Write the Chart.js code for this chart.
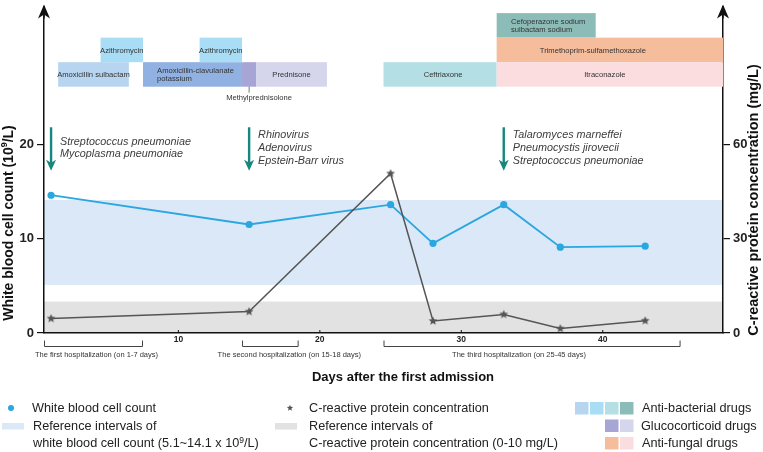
<!DOCTYPE html>
<html>
<head>
<meta charset="utf-8">
<script src="https://cdn.jsdelivr.net/npm/chart.js@4.4.1/dist/chart.umd.min.js"></script>
<style>body{margin:0;background:#fff}canvas{display:block}</style>
</head>
<body>
<canvas id="myChart" width="763" height="452"></canvas>
<script>
const ctx = document.getElementById('myChart').getContext('2d');

// lab values
const wbcDays = [1, 15, 25, 28, 33, 37, 43];
const wbcValues = [14.6, 11.5, 13.6, 9.5, 13.6, 9.1, 9.2];
const crpDays = [1, 15, 25, 28, 33, 37, 43];
const crpValues = [4.6, 6.8, 50.7, 3.8, 5.9, 1.4, 3.9];
const wbcRef = [5.1, 14.1];
const crpRef = [0, 10];

const xTicks = [10, 20, 30, 40];
const wbcTicks = [0, 10, 20];
const crpTicks = [0, 30, 60];

// drugs: first and last day given
const drugNames = ['Amoxicillin sulbactam', 'Azithromycin', 'Amoxicillin-clavulanate\npotassium', 'Azithromycin',
  'Methylprednisolone', 'Prednisone', 'Ceftriaxone', 'Cefoperazone sodium\nsulbactam sodium',
  'Trimethoprim-sulfamethoxazole', 'Itraconazole'];
const drugStart = [2, 5, 8, 12, 15, 16, 25, 33, 33, 33];
const drugEnd = [6, 7, 14, 14, 15, 20, 32, 39, 48, 48];
const drugRow = [0, 1, 0, 1, 0, 0, 0, 2, 1, 0];

// pathogens found
const infectionDays = [1, 15, 33];
const infectionNames = [
  ['Streptococcus pneumoniae', 'Mycoplasma pneumoniae'],
  ['Rhinovirus', 'Adenovirus', 'Epstein-Barr virus'],
  ['Talaromyces marneffei', 'Pneumocystis jirovecii', 'Streptococcus pneumoniae']
];

// hospital stays
const stayNames = ['The first hospitalization (on 1-7 days)', 'The second hospitalization (on 15-18 days)', 'The third hospitalization (on 25-45 days)'];
const stayStart = [1, 15, 25];
const stayEnd = [7, 18, 45];

// styling
const FAM = '"Liberation Sans", Arial, sans-serif';
const font = (s, w, st) => `${st || 'normal'} ${w || 'normal'} ${s}px ${FAM}`;
const drugColors = ['#b7d5f0', '#a9dcf5', '#90b1e1', '#a9dcf5', '#a7a5d6', '#d5d5ec', '#b4e0e5', '#8cbcb8', '#f5bd9b', '#fbdcdf'];
const drugLabelDx = [0, 0, 3, 0, 0, 0, 3, 2, -17, -5];
const rowBase = [26.1, 28.7, 31.3];
const rowH = 2.6;
const stayOffset = [3, 19, -13];
const wbcColor = '#2aa6e0';
const crpColor = '#555555';

function starPath(c, cx, cy, r) {
  c.beginPath();
  for (let i = 0; i < 10; i++) {
    const a = -Math.PI / 2 + i * Math.PI / 5;
    const rr = i % 2 ? r * 0.45 : r;
    c.lineTo(cx + rr * Math.cos(a), cy + rr * Math.sin(a));
  }
  c.closePath();
}
const starImg = document.createElement('canvas');
starImg.width = starImg.height = 10;
(function () { const g = starImg.getContext('2d'); g.fillStyle = crpColor; starPath(g, 5, 5, 4.6); g.fill(); })();

function richText(c, parts, x, y, align) {
  let w = 0;
  parts.forEach(p => { c.font = font(p[1], p[2]); w += c.measureText(p[0]).width; });
  let cx = align === 'center' ? x - w / 2 : x;
  c.textAlign = 'left';
  parts.forEach(p => {
    c.font = font(p[1], p[2]);
    c.fillText(p[0], cx, y + (p[3] || 0));
    cx += c.measureText(p[0]).width;
  });
}

function upArrow(c, x, tip) {
  c.beginPath();
  c.moveTo(x, tip); c.lineTo(x + 6, tip + 14); c.lineTo(x, tip + 10); c.lineTo(x - 6, tip + 14);
  c.closePath(); c.fill();
}

const overlay = {
  id: 'overlay',
  beforeDraw(chart) {
    const { ctx: c, chartArea: a, scales: { y, y1 } } = chart;
    c.save();
    c.fillStyle = '#dbe8f7';
    let t = y.getPixelForValue(wbcRef[1]), b = y.getPixelForValue(wbcRef[0]);
    c.fillRect(a.left, t, a.right - a.left, b - t);
    c.fillStyle = '#e2e2e2';
    t = y1.getPixelForValue(crpRef[1]); b = y1.getPixelForValue(crpRef[0]);
    c.fillRect(a.left, t, a.right - a.left, b - t);
    c.restore();
  },
  afterDraw(chart) {
    const { ctx: c, chartArea: a, scales: { x, y } } = chart;
    c.save();
    c.textBaseline = 'middle';

    // axis arrows
    c.fillStyle = '#111';
    c.strokeStyle = '#111';
    c.lineWidth = 1.5;
    [a.left, a.right].forEach(px => {
      c.beginPath(); c.moveTo(px, a.top); c.lineTo(px, a.top + 12); c.stroke();
      upArrow(c, px, a.top - 2);
    });
    // small inner ticks on x axis
    c.lineWidth = 1;
    xTicks.forEach(v => {
      const px = x.getPixelForValue(v);
      c.beginPath(); c.moveTo(px, a.bottom); c.lineTo(px, a.bottom - 3); c.stroke();
    });

    // drug bars
    drugNames.forEach((name, i) => {
      const x0 = x.getPixelForValue(drugStart[i] - 0.5);
      const x1 = x.getPixelForValue(drugEnd[i] + 0.5);
      const yb = y.getPixelForValue(rowBase[drugRow[i]]);
      const yt = y.getPixelForValue(rowBase[drugRow[i]] + rowH);
      c.fillStyle = drugColors[i];
      c.fillRect(x0, yt, x1 - x0, yb - yt);
      const lines = name.split('\n');
      c.font = font(7.6);
      const tw = Math.max(...lines.map(l => c.measureText(l).width));
      c.fillStyle = '#333';
      if (x1 - x0 < 20) {
        const cx = (x0 + x1) / 2;
        c.strokeStyle = '#777'; c.lineWidth = 1;
        c.beginPath(); c.moveTo(cx, yb); c.lineTo(cx, yb + 6); c.stroke();
        c.textAlign = 'center';
        c.fillText(name, cx + 10, yb + 11);
      } else {
        c.textAlign = 'left';
        const lh = 8.8;
        const mid = (yt + yb) / 2 + 0.5;
        lines.forEach((l, k) => {
          c.fillText(l, (x0 + x1) / 2 - tw / 2 + drugLabelDx[i], mid + (k - (lines.length - 1) / 2) * lh);
        });
      }
    });

    // pathogen arrows
    infectionDays.forEach((d, i) => {
      const px = x.getPixelForValue(d);
      const top = y.getPixelForValue(21.8), bot = y.getPixelForValue(17.2);
      c.strokeStyle = '#16877e'; c.fillStyle = '#16877e'; c.lineWidth = 2.4;
      c.beginPath(); c.moveTo(px, top); c.lineTo(px, bot - 6); c.stroke();
      c.beginPath();
      c.moveTo(px, bot); c.lineTo(px - 5, bot - 11); c.lineTo(px, bot - 8); c.lineTo(px + 5, bot - 11);
      c.closePath(); c.fill();
      c.fillStyle = '#3c3c3c';
      c.font = font(10.8, 'normal', 'italic');
      c.textAlign = 'left';
      const lines = infectionNames[i];
      const mid = (top + bot) / 2 - 1;
      lines.forEach((l, k) => c.fillText(l, px + 9, mid + (k - (lines.length - 1) / 2) * 12.7));
    });

    // hospital stays
    c.strokeStyle = '#444'; c.lineWidth = 1;
    stayNames.forEach((n, i) => {
      const x0 = x.getPixelForValue(stayStart[i] - 0.5), x1 = x.getPixelForValue(stayEnd[i] + 0.5);
      c.beginPath();
      c.moveTo(x0 + 0.5, 340.5); c.lineTo(x0 + 0.5, 346.5); c.lineTo(x1 - 0.5, 346.5); c.lineTo(x1 - 0.5, 340.5);
      c.stroke();
      c.fillStyle = '#333'; c.font = font(7.5); c.textAlign = 'center';
      c.fillText(n, (x0 + x1) / 2 + stayOffset[i], 354.5);
    });

    // axis titles
    c.fillStyle = '#111';
    c.font = font(13, 'bold'); c.textAlign = 'center';
    c.fillText('Days after the first admission', 403, 377);
    c.save();
    c.translate(9, 223); c.rotate(-Math.PI / 2);
    richText(c, [['White blood cell count (10', 14, 'bold'], ['9', 9, 'bold', -4], ['/L)', 14, 'bold']], 0, 0, 'center');
    c.restore();
    c.save();
    c.translate(754, 200); c.rotate(-Math.PI / 2);
    c.font = font(14.5, 'bold'); c.textAlign = 'center';
    c.fillText('C-reactive protein concentration (mg/L)', 0, 0);
    c.restore();

    // legend
    c.fillStyle = wbcColor;
    c.beginPath(); c.arc(11, 408, 3, 0, Math.PI * 2); c.fill();
    c.fillStyle = '#dbe8f7'; c.fillRect(2, 423, 22, 6.5);
    c.fillStyle = crpColor; starPath(c, 290, 408, 3.3); c.fill();
    c.fillStyle = '#e2e2e2'; c.fillRect(275, 423, 22, 6.5);
    c.fillStyle = '#222'; c.font = font(12.7); c.textAlign = 'left';
    c.fillText('White blood cell count', 32, 408);
    c.fillText('Reference intervals of', 33, 426);
    richText(c, [['white blood cell count (5.1~14.1 x 10', 12.7], ['9', 8.5, 'normal', -3], ['/L)', 12.7]], 33, 443.5, 'left');
    c.font = font(12.7);
    c.fillText('C-reactive protein concentration', 309, 408);
    c.fillText('Reference intervals of', 309, 426);
    c.fillText('C-reactive protein concentration (0-10 mg/L)', 309, 443.5);

    const sq = [['#b7d5f0', '#a9dcf5', '#b4e0e5', '#8cbcb8'], ['#a7a5d6', '#d5d5ec'], ['#f5bd9b', '#fbdcdf']];
    const sqLabel = ['Anti-bacterial drugs', 'Glucocorticoid drugs', 'Anti-fungal drugs'];
    sq.forEach((cols, r) => {
      const yy = 402 + r * 17.5;
      cols.forEach((col, k) => {
        c.fillStyle = col;
        c.fillRect(575 + (4 - cols.length + k) * 15, yy, 13.5, 12.5);
      });
      c.fillStyle = '#222';
      c.fillText(sqLabel[r], r === 1 ? 641 : 642, yy + 6.5);
    });
    c.restore();
  }
};

const noPad = s => { s.paddingTop = 0; s.paddingBottom = 0; s.paddingLeft = 0; s.paddingRight = 0; };

const myChart = new Chart(ctx, {
  type: 'line',
  data: {
    datasets: [{
      label: 'C-reactive protein concentration',
      data: crpDays.map((d, i) => ({ x: d, y: crpValues[i] })),
      yAxisID: 'y1',
      borderColor: crpColor,
      borderWidth: 1.5,
      pointStyle: starImg,
      pointRadius: 5,
      backgroundColor: crpColor
    }, {
      label: 'White blood cell count',
      data: wbcDays.map((d, i) => ({ x: d, y: wbcValues[i] })),
      yAxisID: 'y',
      borderColor: wbcColor,
      borderWidth: 1.8,
      pointRadius: 3.6,
      pointBorderWidth: 0,
      pointBackgroundColor: wbcColor
    }]
  },
  options: {
    responsive: false,
    animation: false,
    layout: { padding: { top: 5, left: 0, right: 0, bottom: 0 } },
    plugins: { legend: { display: false }, tooltip: { enabled: false } },
    scales: {
      x: {
        type: 'linear', min: 0.5, max: 48.5,
        afterFit: s => { s.height = 119; noPad(s); },
        afterBuildTicks: s => { s.ticks = xTicks.map(v => ({ value: v })); },
        grid: { display: false, drawTicks: false },
        border: { color: '#111', width: 1.5 },
        ticks: { font: { size: 8.5, weight: 'bold', family: FAM }, color: '#222', padding: 2, maxRotation: 0 }
      },
      y: {
        position: 'left', min: 0, max: 34.6,
        afterFit: s => { s.width = 44; noPad(s); },
        afterBuildTicks: s => { s.ticks = wbcTicks.map(v => ({ value: v })); },
        grid: { drawOnChartArea: false, tickLength: 7, color: '#111', lineWidth: 1.2 },
        border: { color: '#111', width: 1.5 },
        ticks: { font: { size: 13, weight: 'bold', family: FAM }, color: '#222', padding: 3 }
      },
      y1: {
        position: 'right', min: 0, max: 103.8,
        afterFit: s => { s.width = 40; noPad(s); },
        afterBuildTicks: s => { s.ticks = crpTicks.map(v => ({ value: v })); },
        grid: { drawOnChartArea: false, tickLength: 7, color: '#111', lineWidth: 1.2 },
        border: { color: '#111', width: 1.5 },
        ticks: { font: { size: 13, weight: 'bold', family: FAM }, color: '#222', padding: 3 }
      }
    }
  },
  plugins: [overlay]
});
</script>
</body>
</html>
